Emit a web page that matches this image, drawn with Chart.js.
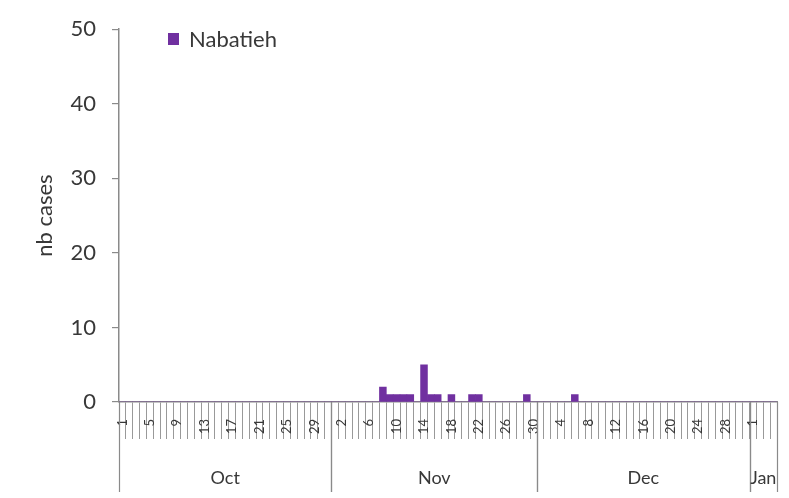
<!DOCTYPE html>
<html><head><meta charset="utf-8">
<script src="https://cdn.jsdelivr.net/npm/chart.js@4.4.0/dist/chart.umd.min.js"></script>
<style>html,body{margin:0;padding:0;background:#fff}#wrap{width:789px;height:498px}</style>
</head><body><div id="wrap"><canvas id="c" width="789" height="498"></canvas></div>
<script>
const seriesName = 'Nabatieh';
const months = ['Oct', 'Nov', 'Dec', 'Jan'];
const monthLengths = [31, 30, 31, 4];
const labelEvery = 4;
const octCases = [0,0,0,0,0,0,0,0,0,0,0,0,0,0,0,0,0,0,0,0,0,0,0,0,0,0,0,0,0,0,0];
const novCases = [0,0,0,0,0,0,0,2,1,1,1,1,0,5,1,1,0,1,0,0,1,1,0,0,0,0,0,0,1,0];
const decCases = [0,0,0,0,0,1,0,0,0,0,0,0,0,0,0,0,0,0,0,0,0,0,0,0,0,0,0,0,0,0,0];
const janCases = [0,0,0,0];
const yTicks = [0, 10, 20, 30, 40, 50];

const FONT = 'Lato, "Open Sans", sans-serif';
const TEXT = '#383838';
const AXIS = '#8a8a8a';

const dayLabels = [];
monthLengths.forEach(n => { for (let d = 1; d <= n; d++) dayLabels.push(String(d)); });
const cases = [].concat(octCases, novCases, decCases, janCases);
const barColor = '#7030A0';

const monthPlugin = {
  id: 'months',
  afterDraw(chart) {
    const xs = chart.scales.x;
    const ctx = chart.ctx;
    const half = (xs.getPixelForValue(1) - xs.getPixelForValue(0)) / 2;
    let start = 0;
    ctx.save();
    ctx.strokeStyle = AXIS;
    ctx.lineWidth = 1.2;
    ctx.fillStyle = TEXT;
    ctx.font = '18px ' + FONT;
    ctx.textAlign = 'center';
    ctx.textBaseline = 'middle';
    months.forEach((m, k) => {
      const end = start + monthLengths[k];
      const left = xs.getPixelForValue(start) - half;
      const right = xs.getPixelForValue(end - 1) + half;
      ctx.beginPath();
      ctx.moveTo(Math.round(left) + 0.5, xs.top);
      ctx.lineTo(Math.round(left) + 0.5, 492);
      ctx.moveTo(Math.round(right) + 0.5, xs.top);
      ctx.lineTo(Math.round(right) + 0.5, 492);
      ctx.stroke();
      ctx.fillText(m, (left + right) / 2, 478);
      start = end;
    });
    ctx.restore();
  }
};

const legendPlugin = {
  id: 'innerLegend',
  afterDraw(chart) {
    const ctx = chart.ctx;
    const ds = chart.data.datasets[0];
    ctx.save();
    ctx.fillStyle = ds.backgroundColor;
    ctx.fillRect(168, 33, 11, 12);
    ctx.fillStyle = TEXT;
    ctx.font = '22px ' + FONT;
    ctx.textAlign = 'left';
    ctx.textBaseline = 'middle';
    ctx.fillText(ds.label, 189, 40);
    ctx.restore();
  }
};

new Chart(document.getElementById('c'), {
  type: 'bar',
  data: {
    labels: dayLabels,
    datasets: [{
      label: seriesName,
      data: cases,
      backgroundColor: barColor,
      borderWidth: 0,
      categoryPercentage: 1,
      barPercentage: 1
    }]
  },
  options: {
    responsive: false,
    animation: false,
    layout: { padding: { top: 20, right: 12, left: 0, bottom: 0 } },
    plugins: { legend: { display: false }, tooltip: { enabled: false } },
    scales: {
      x: {
        grid: { offset: true, drawOnChartArea: false, tickLength: 37, color: '#999999', lineWidth: 1 },
        border: { color: AXIS, width: 1.5 },
        ticks: {
          autoSkip: false, minRotation: 90, maxRotation: 90, padding: -20,
          font: { size: 13, family: FONT }, color: TEXT,
          callback: (v, i) => (i % labelEvery === 0 ? dayLabels[i] : '')
        },
        afterFit: s => { s.height = 96; }
      },
      y: {
        min: yTicks[0], max: yTicks[yTicks.length - 1],
        afterBuildTicks: s => { s.ticks = yTicks.map(v => ({ value: v })); },
        ticks: { padding: 16, font: { size: 22, family: FONT }, color: TEXT },
        grid: { drawOnChartArea: false, tickLength: 7, color: AXIS, lineWidth: 1.2 },
        border: { color: AXIS, width: 1.5 },
        title: { display: true, text: 'nb cases', font: { size: 22, family: FONT }, color: TEXT, padding: { top: 32, bottom: 0 } },
        afterFit: s => { s.width = 119; }
      }
    }
  },
  plugins: [monthPlugin, legendPlugin]
});
</script></body></html>
